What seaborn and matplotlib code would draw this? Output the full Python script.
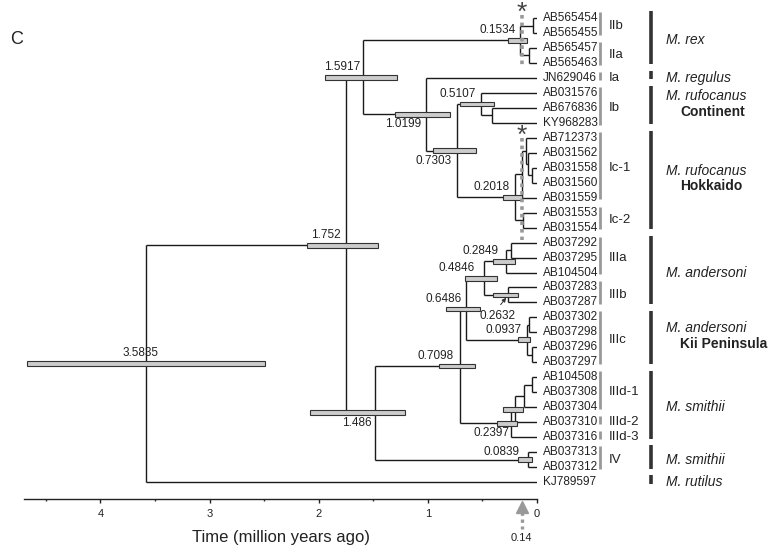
import matplotlib
matplotlib.use('Agg')
import matplotlib.pyplot as plt
import numpy as np
import seaborn as sns

# ---- data -------------------------------------------------------------
tip_labels = ['AB565454', 'AB565455', 'AB565457', 'AB565463', 'JN629046',
              'AB031576', 'AB676836', 'KY968283', 'AB712373', 'AB031562',
              'AB031558', 'AB031560', 'AB031559', 'AB031553', 'AB031554',
              'AB037292', 'AB037295', 'AB104504', 'AB037283', 'AB037287',
              'AB037302', 'AB037298', 'AB037296', 'AB037297', 'AB104508',
              'AB037308', 'AB037304', 'AB037310', 'AB037316', 'AB037313',
              'AB037312', 'KJ789597']

# internal nodes (age in million years ago) and their two children
node_ids = ['root', 'n1752', 'n15917', 'rex', 'IIb', 'IIa', 'n10199',
            'n07303', 'n05107', 'ib2', 'n02018', 'ic1', 'icC', 'icB', 'icA',
            'ic2', 'n1486', 'n07098', 'n06486', 'n04846', 'n02849', 'iiia2',
            'n02632', 'n00937', 'iiic1', 'iiic2', 'n02397', 'iiidS', 'iiidQ',
            'iiid1', 'iv']
node_ages = [3.5835, 1.752, 1.5917, 0.1534, 0.04, 0.07, 1.0199,
             0.7303, 0.5107, 0.41, 0.2018, 0.14, 0.105, 0.08, 0.05,
             0.13, 1.486, 0.7098, 0.6486, 0.4846, 0.2849, 0.24,
             0.2632, 0.0937, 0.07, 0.05, 0.2397, 0.20, 0.12,
             0.05, 0.0839]
node_children = [('n1752', 'KJ789597'), ('n15917', 'n1486'), ('rex', 'n10199'),
                 ('IIb', 'IIa'), ('AB565454', 'AB565455'), ('AB565457', 'AB565463'),
                 ('JN629046', 'n07303'), ('n05107', 'n02018'), ('AB031576', 'ib2'),
                 ('AB676836', 'KY968283'), ('ic1', 'ic2'), ('icC', 'AB031559'),
                 ('AB712373', 'icB'), ('AB031562', 'icA'), ('AB031558', 'AB031560'),
                 ('AB031553', 'AB031554'), ('n07098', 'iv'), ('n06486', 'n02397'),
                 ('n04846', 'n00937'), ('n02849', 'n02632'), ('iiia2', 'AB104504'),
                 ('AB037292', 'AB037295'), ('AB037283', 'AB037287'),
                 ('iiic1', 'iiic2'), ('AB037302', 'AB037298'), ('AB037296', 'AB037297'),
                 ('iiidS', 'AB037316'), ('iiidQ', 'AB037310'), ('iiid1', 'AB037304'),
                 ('AB104508', 'AB037308'), ('AB037313', 'AB037312')]

# 95% HPD bars and node age labels
hpd_nodes = ['root', 'n1752', 'n15917', 'n1486', 'n10199', 'n07303', 'n05107',
             'n02018', 'rex', 'n07098', 'n06486', 'n04846', 'n02849', 'n02632',
             'n00937', 'n02397', 'iiidS', 'iv']
hpd_low = [2.49, 1.46, 1.28, 1.21, 0.80, 0.56, 0.39,
           0.14, 0.09, 0.57, 0.52, 0.37, 0.20, 0.17,
           0.06, 0.18, 0.13, 0.05]
hpd_high = [4.67, 2.11, 1.94, 2.08, 1.30, 0.95, 0.71,
            0.31, 0.27, 0.90, 0.83, 0.66, 0.40, 0.40,
            0.17, 0.37, 0.31, 0.17]
age_label_nodes = ['root', 'n1752', 'n15917', 'n1486', 'n10199', 'n07303',
                   'n05107', 'n02018', 'rex', 'n07098', 'n06486', 'n04846',
                   'n02849', 'n02632', 'n00937', 'n02397', 'iv']
age_label_text = ['3.5835', '1.752', '1.5917', '1.486', '1.0199', '0.7303',
                  '0.5107', '0.2018', '0.1534', '0.7098', '0.6486', '0.4846',
                  '0.2849', '0.2632', '0.0937', '0.2397', '0.0839']

clade_names = ['IIb', 'IIa', 'Ia', 'Ib', 'Ic-1', 'Ic-2', 'IIIa', 'IIIb',
               'IIIc', 'IIId-1', 'IIId-2', 'IIId-3', 'IV']
clade_first = [0, 2, 4, 5, 8, 13, 15, 18, 20, 24, 27, 28, 29]
clade_last = [1, 3, 4, 7, 12, 14, 17, 19, 23, 26, 27, 28, 30]

species_names = ['M. rex', 'M. regulus', 'M. rufocanus', 'M. rufocanus',
                 'M. andersoni', 'M. andersoni', 'M. smithii', 'M. smithii',
                 'M. rutilus']
species_sub = ['', '', 'Continent', 'Hokkaido', '', 'Kii Peninsula', '', '', '']
species_first = [0, 4, 5, 8, 15, 20, 24, 29, 31]
species_last = [3, 4, 7, 14, 19, 23, 28, 30, 31]

marker_age = 0.14
marker_spans = [(-0.2, 3.3), (8.0, 14.8)]

# ---- layout / style ---------------------------------------------------
line_col = '#1a1a1a'
bar_fill = '#cccccc'
grey = '#999999'

# label offsets in points: (dx, dy, ha, va)
label_place = {
    'root': (-4, 3, 'center', 'bottom'),
    'n1752': (-4, 3, 'right', 'bottom'),
    'n15917': (-2, 3, 'right', 'bottom'),
    'n1486': (-2, -3, 'right', 'top'),
    'n10199': (-3, -3, 'right', 'top'),
    'n07303': (-4, -3, 'right', 'top'),
    'n05107': (-4, 3, 'right', 'bottom'),
    'n02018': (-4, 3, 'right', 'bottom'),
    'rex': (-3, 3, 'right', 'bottom'),
    'n07098': (-4, 3, 'right', 'bottom'),
    'n06486': (-3, 3, 'right', 'bottom'),
    'n04846': (-7, 3, 'right', 'bottom'),
    'n02849': (-5, 3, 'right', 'bottom'),
    'n02632': (-8, -11, 'center', 'top'),
    'n00937': (-4, 3, 'right', 'bottom'),
    'n02397': (-1, -3, 'right', 'top'),
    'iv': (-6, 1, 'right', 'bottom'),
}

sns.set_theme(style='white')
plt.rcParams['font.family'] = ['Liberation Sans', 'DejaVu Sans']

fig = plt.figure(figsize=(7.73, 5.49), dpi=100)
ax = fig.add_axes([24 / 773, 50 / 549, 513 / 773, 494 / 549])
ax.set_xlim(4.7, 0)
ax.set_ylim(32.13, -0.87)

# ---- tree geometry ----------------------------------------------------
children = dict(zip(node_ids, node_children))
xpos = {t: 0.0 for t in tip_labels}
xpos.update(dict(zip(node_ids, node_ages)))
ypos = {t: float(i) for i, t in enumerate(tip_labels)}


def set_y(n):
    if n in ypos:
        return ypos[n]
    ys = [set_y(c) for c in children[n]]
    ypos[n] = (min(ys) + max(ys)) / 2
    return ypos[n]


set_y('root')

for nid in node_ids:
    kids = children[nid]
    ky = [ypos[k] for k in kids]
    ax.vlines(xpos[nid], min(ky), max(ky), color=line_col, lw=1.0, zorder=2)
    for k in kids:
        ax.hlines(ypos[k], xpos[nid], xpos[k], color=line_col, lw=1.0, zorder=2)

# HPD bars
ax.barh([ypos[n] for n in hpd_nodes], np.array(hpd_high) - np.array(hpd_low),
        left=hpd_low, height=0.32, color=bar_fill, edgecolor='#333333',
        linewidth=0.8, zorder=3)

# node age labels
for n, txt in zip(age_label_nodes, age_label_text):
    dx, dy, ha, va = label_place[n]
    ax.annotate(txt, xy=(xpos[n], ypos[n]), xytext=(dx, dy),
                textcoords='offset points', ha=ha, va=va, fontsize=8.5,
                color='#222222', zorder=4)

# arrow for 0.2632
n = 'n02632'
ax.annotate('', xy=(xpos[n], ypos[n]), xytext=(-5.5, -7),
            textcoords='offset points',
            arrowprops=dict(arrowstyle='-|>', color='#333333', lw=0.7,
                            mutation_scale=6, shrinkA=0, shrinkB=2.5))

# tip labels
for t in tip_labels:
    ax.annotate(t, xy=(0, ypos[t]), xytext=(4.5, 0), textcoords='offset points',
                ha='left', va='center', fontsize=8.5, color='#222222',
                annotation_clip=False)

# clade bars and labels
for name, a, b in zip(clade_names, clade_first, clade_last):
    ax.vlines(-0.577, a - 0.4, b + 0.12, color=grey, lw=2.0, clip_on=False)
    ax.text(-0.66, (a + b) / 2, name, ha='left', va='center', fontsize=9.5,
            color='#222222')

# species bars and labels
for name, sub, a, b in zip(species_names, species_sub, species_first, species_last):
    ax.vlines(-1.045, a - 0.45, b + 0.1, color='#333333', lw=2.6, clip_on=False)
    mid = (a + b) / 2
    if sub:
        ax.text(-1.18, mid - 0.77, name, ha='left', va='center', fontsize=10,
                style='italic', color='#222222')
        ax.text(-1.31, mid + 0.25, sub, ha='left', va='center', fontsize=10,
                fontweight='bold', color='#222222')
    else:
        ax.text(-1.18, mid, name, ha='left', va='center', fontsize=10,
                style='italic', color='#222222')

# dotted markers at 0.14 Ma
for y0, y1 in marker_spans:
    ax.vlines(marker_age, y0, y1, color=grey, lw=2.6,
              linestyles=[(0, (1, 1.1))], zorder=5)
    ax.text(marker_age, y0 + 0.35, '*', ha='center', va='baseline',
            fontsize=19, color='#444444', zorder=5)

xt = ax.get_xaxis_transform()
ax.plot([marker_age], [-0.016], transform=xt, marker='^', ms=8.5,
        color=grey, clip_on=False, zorder=5)
ax.plot([marker_age, marker_age], [-0.026, -0.06], transform=xt, color=grey,
        lw=2.4, linestyle=(0, (1, 1.1)), clip_on=False)
ax.text(marker_age, -0.078, '0.14', transform=xt, ha='center', va='center',
        fontsize=8, color='#222222')

# axis
ax.set_xticks([0, 1, 2, 3, 4])
ax.set_xticks(np.arange(0.5, 4.6, 1.0), minor=True)
ax.set_yticks([])
ax.tick_params(axis='x', which='major', direction='out', length=3, width=1,
               labelsize=8, pad=4, colors='#222222', bottom=True)
ax.tick_params(axis='x', which='minor', direction='out', length=1.5, width=1,
               bottom=True)
sns.despine(ax=ax, left=True)
ax.spines['bottom'].set_linewidth(1.0)
ax.spines['bottom'].set_color('#222222')
ax.set_xlabel('Time (million years ago)', fontsize=12, labelpad=8,
              color='#222222')

fig.text(10 / 773, 1 - 39 / 549, 'C', fontsize=13, va='center', ha='left',
         color='#222222')

fig.savefig('out.png', dpi=100)
